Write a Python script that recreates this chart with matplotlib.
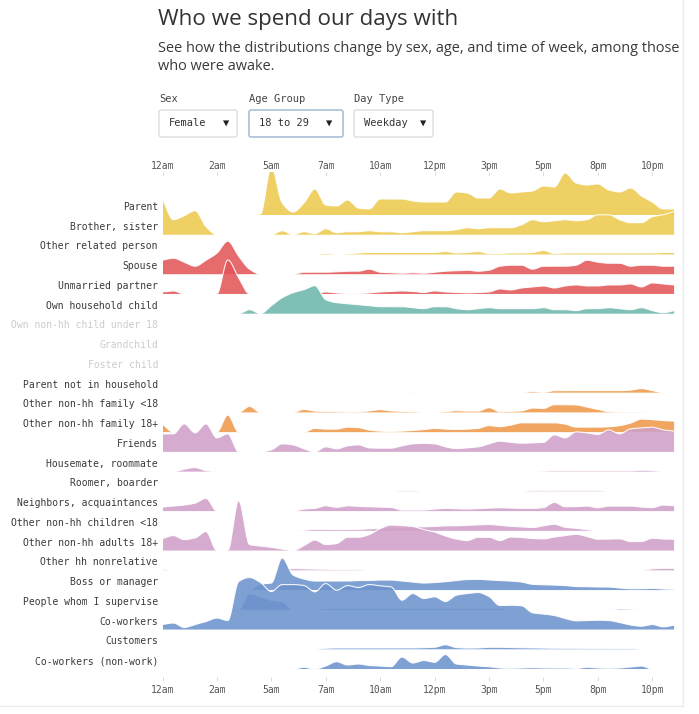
import numpy as np
import matplotlib
matplotlib.use("Agg")
import matplotlib.pyplot as plt
from matplotlib.patches import FancyBboxPatch
from matplotlib.lines import Line2D

# ---------------- data (relative share) ----------------
HOURS = np.arange(0, 24, 0.5)          # half-hour bins 12am .. 11:30pm
TICK_POS = [0, 2.5, 5, 7.5, 10, 12.5, 15, 17.5, 20, 22.5]
TICK_LABELS = ["12am", "2am", "5am", "7am", "10am", "12pm", "3pm", "5pm", "8pm", "10pm"]

CATEGORIES = [
    "Parent", "Brother, sister", "Other related person", "Spouse", "Unmarried partner",
    "Own household child", "Own non-hh child under 18", "Grandchild", "Foster child",
    "Parent not in household", "Other non-hh family <18", "Other non-hh family 18+",
    "Friends", "Housemate, roommate", "Roomer, boarder", "Neighbors, acquaintances",
    "Other non-hh children <18", "Other non-hh adults 18+", "Other hh nonrelative",
    "Boss or manager", "People whom I supervise", "Co-workers", "Customers",
    "Co-workers (non-work)",
]
GROUPS = ["family", "family", "family", "partner", "partner", "child", "child", "child", "child",
          "extended", "extended", "extended", "social", "social", "social", "social", "social",
          "social", "social", "work", "work", "work", "work", "work"]
GREYED = ["Own non-hh child under 18", "Grandchild", "Foster child"]

parent = [0, 0, 0, 0, 0, 0, 0, 0, 0, 1, 48, 12, 3, 12, 26, 10, 9, 15, 7, 6, 16, 16, 16, 14,
          13, 13, 13, 23, 22, 17, 17, 26, 22, 23, 24, 29, 28, 42, 32, 30, 31, 25, 23, 27, 19, 13, 6, 6]
brother_sister = [36, 15, 19, 24, 8, 0, 0, 0, 0, 0, 0, 4, 0, 3, 1, 6, 2, 3, 3, 4, 3, 3, 2, 3,
                  4, 4, 4, 5, 7, 6, 7, 7, 7, 10, 15, 13, 14, 15, 14, 15, 20, 20, 15, 12, 12, 18, 20, 23]
other_related = [0, 0, 0, 0, 0, 0, 0, 0, 0, 0, 0, 0, 0, 0, 0, 1, 0, 0.5, 1.5, 2, 2, 2, 2, 2,
                 2, 2, 3, 1.5, 2, 3, 1, 1, 1.5, 1.5, 2, 4, 1, 1.5, 1.5, 1.5, 1.5, 1.5, 1.5, 1.5, 1.5, 1.5, 2, 2]
spouse = [14, 16, 12, 8, 14, 21, 33, 18, 5, 0, 0, 0, 0, 2, 2, 2, 2.5, 3, 3, 5, 2, 1.5, 1, 1.5,
          1, 2, 3, 3.5, 4, 3, 4, 8, 9, 9, 5, 8, 8, 8, 9, 14, 12, 11, 11, 8, 9, 9, 8, 8]
unmarried_partner = [2, 3, 0, 0, 0, 0, 34, 16, 0, 0, 0, 0, 0, 0, 0, 2, 1, 0.5, 0.5, 1, 2, 2.5, 3, 2.5,
                     1.5, 3, 2, 1.5, 1, 1.5, 2, 5, 4, 6, 7, 8, 6, 8, 9, 8, 8, 9, 9, 10, 7, 11, 10, 9]
own_hh_child = [0, 0, 0, 0, 0, 0, 0, 0, 4, 0, 8, 16, 21, 24, 28, 14, 11, 10, 9, 8, 7, 7, 7, 6,
                5, 7, 7, 5, 4, 5, 6, 5, 5, 5, 5, 6, 4, 4, 3, 5, 5, 6, 5, 4, 6, 3, 1, 3]
own_nonhh_child = [0] * 48
grandchild = [0] * 48
foster_child = [0] * 48
parent_not_hh = [0, 0, 0, 0, 0, 0, 0, 0, 0, 0, 0, 0, 0, 0, 0, 0, 0, 0, 0, 0, 0, 0, 0, 0.3,
                 0, 0, 0, 0, 0, 0, 0, 0, 0, 0, 1, 0.3, 2, 2, 2, 2, 2, 2, 2, 2.5, 4, 2, 0, 0]
nonhh_family_u18 = [0, 0, 0, 0, 0, 0, 0, 0, 6, 0, 0, 0, 0, 3, 1.3, 1, 0.7, 0.4, 0.4, 1.5, 2.7, 1.5, 1, 0.7,
                    0, 0, 0.7, 1.7, 1.3, 1.3, 4.7, 0.7, 1, 1.5, 4.3, 4, 7.7, 7.7, 7.5, 5.3, 3, 0.7, 0.3, 0.3, 0.3, 0, 0, 0]
nonhh_family_18p = [8, 0, 0, 0, 0, 0, 17, 0, 0, 0, 0, 0, 0, 0, 3.7, 3, 3, 5, 4.5, 2, 1, 0.7, 1, 1.7,
                    2.5, 3.7, 3, 2.7, 3, 3.7, 6.5, 5.5, 7, 9.3, 9.3, 9.3, 9.3, 8, 5, 5, 5, 5.3, 6.5, 9, 13, 12.5, 11.5, 11]
friends = [18, 18, 28, 19, 28, 14, 18, 0, 0, 0, 2, 8, 7, 3, 0, 5, 3, 6, 7, 4, 3.7, 3.7, 6, 8,
           8.5, 8, 5, 3.3, 4, 5, 8, 10.7, 9.5, 8.7, 9, 9.5, 17, 14, 20, 19, 17.5, 22, 18, 23, 24, 24.7, 22, 20.7]
housemate = [0, 0, 2.5, 4, 1, 0, 0, 0, 0, 0, 0, 0, 0, 0, 0, 0, 0, 0, 0, 0, 0, 0, 0, 0,
             0, 0, 0, 0, 0, 0, 0, 0, 0, 0, 0, 0.5, 0.7, 0.7, 0.7, 0.7, 0.7, 0.7, 0.7, 0.7, 1.5, 1, 0, 0]
roomer = [0, 0, 0, 0, 0, 0, 0, 0, 0, 0, 0, 0, 0, 0, 0, 0, 0, 0, 0, 0, 0, 0, 0.5, 0.5,
          0, 0, 0, 0, 0, 0, 0, 0, 0, 0, 0.7, 0.7, 0.7, 0.7, 0.7, 0.7, 0.7, 0, 0, 0, 0, 0, 0, 0]
neighbors = [4, 5, 6, 8, 12.7, 0, 0, 0, 0, 0, 0, 0, 0, 2, 2.7, 5.3, 3.7, 5.3, 4.7, 4.3, 4, 3.7, 1, 1,
             1, 2, 2.7, 2.3, 2, 2.5, 3, 3.3, 3, 2.7, 2.7, 3.5, 8.7, 4.3, 4.5, 5, 3.3, 5, 5, 5, 4, 3.5, 6, 5.3]
nonhh_children = [0, 0, 0, 0, 0, 0, 0, 0, 0, 0, 0, 0, 0, 0.5, 1.5, 1.5, 1.3, 1.3, 1.5, 2, 2.5, 3, 3.5, 4,
                  4, 4.5, 5, 5, 5.5, 6, 6.3, 5.5, 4.5, 4, 3.3, 5, 6.5, 3.5, 2.5, 1.2, 0, 0, 0, 0, 0, 0, 0, 0]
nonhh_adults = [12, 15, 11, 12.7, 19, 0, 0, 50, 6, 4.5, 3.3, 1.5, 0, 5, 10.5, 6, 7, 13.3, 13.3, 16, 22, 25.5, 25, 24,
                21, 18.5, 14.5, 11.5, 10, 13.3, 13.3, 10, 13.5, 13, 12, 11.7, 13.5, 15, 16.3, 14, 11.3, 11.5, 11.7, 9, 9, 12.3, 11.5, 11.3]
hh_nonrelative = [0.7, 0, 0, 0, 0, 0, 0, 0, 0, 0, 0, 0, 1.8, 1.5, 1.2, 1, 0.8, 0.6, 0.5, 0, 0, 0, 0, 0,
                  0, 0, 0, 0, 0, 0, 0, 0, 0, 0, 0, 0, 0, 0, 0, 0, 0, 0, 0, 0, 0, 1.5, 2, 2]
boss = [0, 0, 0, 0, 0, 0, 0, 0, 0, 6, 7, 32, 15, 11, 9, 9, 9, 9, 9.5, 9.5, 10, 10, 9, 8,
        7, 7.5, 8.3, 9.5, 10.5, 10.7, 10, 9.5, 9, 8, 5.7, 5.3, 5, 4.5, 3.5, 3.3, 3, 3, 2, 1.3, 1.3, 1.7, 1, 0.7]
supervise = [0, 0, 0, 0, 0, 0, 0, 0, 16, 13, 9.5, 8, 0, 0, 0, 1.5, 1.7, 1.7, 1.7, 1.7, 1.7, 1.7, 1.7, 1.7,
             1.7, 1.7, 1.7, 1.7, 1.7, 1.7, 1.7, 1.7, 0, 0, 0, 0, 0, 0, 0, 0, 0, 0, 0.8, 0.5, 0, 0, 0, 0]
coworkers = [5, 6.5, 2, 5, 8, 11.5, 9, 48, 52, 47, 38, 45, 45, 44, 37.7, 46, 39.3, 44, 42, 45, 43.7, 42.7, 29.3, 36,
             31, 32.7, 28, 34.3, 36, 37, 33, 24, 24.3, 23.7, 16.7, 15.5, 14, 11, 8.7, 9, 9.3, 9, 7, 4.5, 3.3, 5, 2.7, 4.3]
customers = [0, 0, 0, 0, 0, 0, 0, 0, 0, 0, 0, 0, 0, 0, 0, 1, 1.3, 1.3, 1.3, 1.3, 1.3, 1.3, 1.3, 1.3,
             1.7, 2, 4.5, 1.7, 1.2, 1.3, 2, 2, 1.7, 1.5, 1.3, 1.2, 1, 1, 1, 0.9, 0.8, 0.8, 0.7, 0.7, 0, 0, 0, 0]
coworkers_nonwork = [0, 0, 0, 0, 0, 0, 0, 0, 0, 0, 0, 0, 0, 1.7, 0, 3, 7.3, 4, 5, 3.5, 3, 2.3, 12, 6,
                     8.5, 6.7, 14.5, 5, 4, 3, 2.3, 1, 0.7, 1, 1.3, 1, 1, 1, 0.5, 1.7, 1, 0.7, 1, 2, 3, 0, 0, 0]

SERIES = [parent, brother_sister, other_related, spouse, unmarried_partner, own_hh_child,
          own_nonhh_child, grandchild, foster_child, parent_not_hh, nonhh_family_u18,
          nonhh_family_18p, friends, housemate, roomer, neighbors, nonhh_children,
          nonhh_adults, hh_nonrelative, boss, supervise, coworkers, customers, coworkers_nonwork]

GROUP_COLORS = {"family": "#ECCA4F", "partner": "#E35658", "child": "#6DB6AB",
                "extended": "#EF994A", "social": "#D0A1CA", "work": "#6D93CD"}

TITLE = "Who we spend our days with"
SUBTITLE = ["See how the distributions change by sex, age, and time of week, among those",
            "who were awake."]
CONTROL_LABELS = ["Sex", "Age Group", "Day Type"]
CONTROL_VALUES = ["Female", "18 to 29", "Weekday"]

# ---------------- layout helpers ----------------
W, H = 699, 714
fig = plt.figure(figsize=(W / 100, H / 100), dpi=100)
fig.patch.set_facecolor("white")
renderer = fig.canvas.get_renderer()


def fx(px):
    return px / W


def fy(py):
    return 1 - py / H


def fit_text(txt, width_px, size0):
    """shrink/grow a text so that it spans the given width in pixels"""
    txt.set_fontsize(size0)
    w = txt.get_window_extent(renderer).width
    txt.set_fontsize(size0 * width_px / w)


MONO = ["DejaVu Sans Mono", "DejaVu Sans"]
SANS = ["Open Sans", "DejaVu Sans"]

AX_L, PX_PER_H = 162.5, 21.77
AX_R = AX_L + 24 * PX_PER_H
AX_T, AX_B = 172, 681
ROW0, ROW = 215.0, 19.74

ax = fig.add_axes([fx(AX_L), fy(AX_B), (AX_R - AX_L) / W, (AX_B - AX_T) / H])
ax.set_xlim(0, 24)
ax.set_ylim(-(AX_B - ROW0) / ROW, (ROW0 - AX_T) / ROW)
for s in ax.spines.values():
    s.set_visible(False)
ax.set_yticks([])
ax.set_xticks(TICK_POS)
ax.set_xticklabels(TICK_LABELS, fontfamily=MONO)
ax.tick_params(axis="x", top=False, labeltop=False, bottom=True, labelbottom=True,
               direction="in", length=3, width=0.6, color="#d5d5d5",
               labelsize=7, labelcolor="#555555", pad=3.0)

sec = ax.secondary_xaxis("top")
sec.set_xticks(TICK_POS)
sec.set_xticklabels(TICK_LABELS, fontfamily=MONO)
sec.tick_params(axis="x", direction="in", length=3, width=0.6, color="#d5d5d5",
                labelsize=7, labelcolor="#555555", pad=1.0)
for s in sec.spines.values():
    s.set_visible(False)


def monotone(x, y, n=14):
    x = np.asarray(x, float)
    y = np.asarray(y, float)
    h = np.diff(x)
    d = np.diff(y) / h
    m = np.zeros_like(y)
    m[0], m[-1] = d[0], d[-1]
    for k in range(1, len(y) - 1):
        if d[k - 1] * d[k] > 0:
            w1 = 2 * h[k] + h[k - 1]
            w2 = h[k] + 2 * h[k - 1]
            m[k] = (w1 + w2) / (w1 / d[k - 1] + w2 / d[k])
    xs, ys = [], []
    t = np.linspace(0, 1, n, endpoint=False)
    h00 = 2 * t**3 - 3 * t**2 + 1
    h10 = t**3 - 2 * t**2 + t
    h01 = -2 * t**3 + 3 * t**2
    h11 = t**3 - t**2
    for k in range(len(h)):
        xs.append(x[k] + t * h[k])
        ys.append(h00 * y[k] + h10 * h[k] * m[k] + h01 * y[k + 1] + h11 * h[k] * m[k + 1])
    xs.append([x[-1]])
    ys.append([y[-1]])
    return np.concatenate(xs), np.clip(np.concatenate(ys), 0, None)


for i, (name, vals, grp) in enumerate(zip(CATEGORIES, SERIES, GROUPS)):
    base = -i
    col = GROUP_COLORS[grp]
    if max(vals) > 0:
        xs, ys = monotone(HOURS, vals)
        top = base + ys / ROW
        ax.fill_between(xs, base, top, facecolor=col, alpha=0.88, linewidth=0, zorder=2 + i)
        line = np.where(ys > 0.05, top, np.nan)
        ax.plot(xs, line, color="white", lw=0.8, alpha=0.9, zorder=2 + i + 0.5,
                solid_capstyle="butt")
    ax.text(-(AX_L - 158) / PX_PER_H, base + 8.0 / ROW, name, ha="right", va="center",
            fontsize=7, fontfamily=MONO,
            color="#cccccc" if name in GREYED else "#3a3a3a", clip_on=False)

# ---------------- header ----------------
t = fig.text(fx(158), fy(19), TITLE, fontfamily=SANS, color="#333333",
             va="center", ha="left")
fit_text(t, 300, 15)
s1 = fig.text(fx(158), fy(48), SUBTITLE[0], fontfamily=SANS,
              color="#3a3a3a", va="center", ha="left")
fit_text(s1, 522, 10)
fig.text(fx(158), fy(67), SUBTITLE[1], fontfamily=SANS, color="#3a3a3a",
         va="center", ha="left", fontsize=s1.get_fontsize())

box_x = [(159, 237, 226), (249, 343, 329), (354, 433, 423)]
box_ec = ["#dddddd", "#9db3d1", "#dddddd"]
for lab, val, (x0, x1, xa), ec in zip(CONTROL_LABELS, CONTROL_VALUES, box_x, box_ec):
    fig.text(fx(x0), fy(99), lab, fontsize=7.5, fontfamily=MONO, color="#444444",
             va="center", ha="left")
    box = FancyBboxPatch((fx(x0), fy(137)), fx(x1) - fx(x0), fy(110) - fy(137),
                         boxstyle="round,pad=0,rounding_size=0.003",
                         transform=fig.transFigure, facecolor="white", edgecolor=ec,
                         linewidth=1.0)
    fig.patches.append(box)
    fig.text(fx(x0 + 10), fy(123.5), val, fontsize=7.5, fontfamily=MONO, color="#333333",
             va="center", ha="left")
    fig.text(fx(xa), fy(123), "▼", fontsize=7.5, fontfamily=MONO, color="#222222",
             va="center", ha="center")

# faint page frame
fig.add_artist(Line2D([fx(683), fx(683)], [fy(0), fy(706)], transform=fig.transFigure,
                      color="#ececec", lw=1))
fig.add_artist(Line2D([fx(0), fx(683)], [fy(706), fy(706)], transform=fig.transFigure,
                      color="#ececec", lw=1))

fig.savefig("out.png", dpi=100, facecolor="white")
